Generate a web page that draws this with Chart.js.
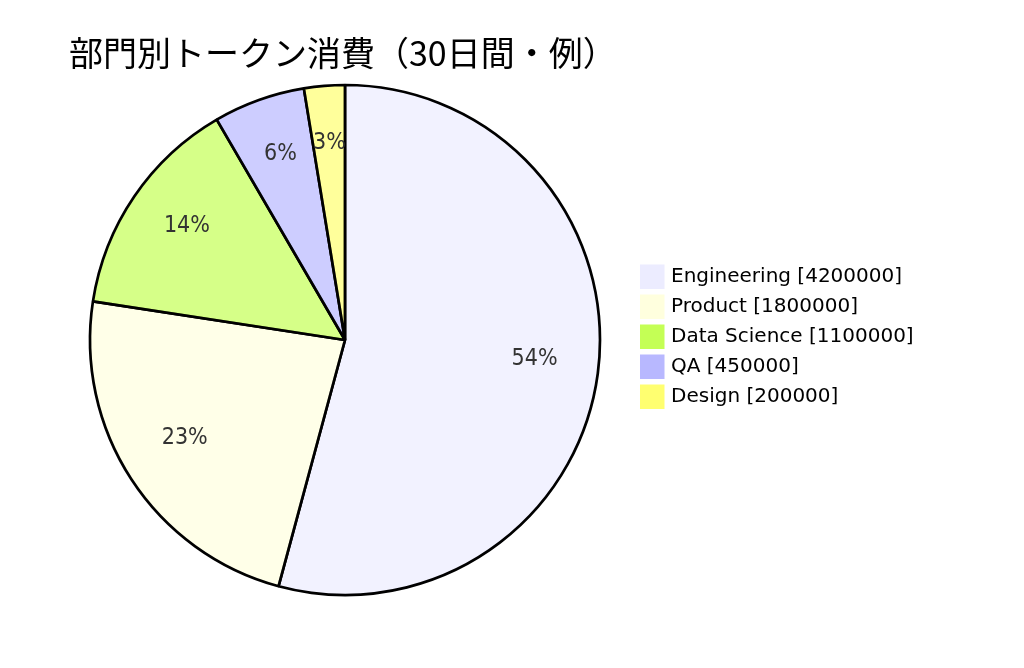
<!DOCTYPE html>
<html>
<head>
<meta charset="utf-8">
<script src="https://cdn.jsdelivr.net/npm/chart.js@4/dist/chart.umd.min.js"></script>
<style>
  html, body { margin: 0; padding: 0; background: #fff; }
  #wrap { position: relative; width: 1024px; height: 668px; }
</style>
</head>
<body>
<div id="wrap"><canvas id="pieChart" width="1024" height="668"></canvas></div>
<script>
'use strict';

/** Token usage by department (pie) */

const chartTitle = '部門別トークン消費（30日間・例）';
const departments = ['Engineering', 'Product', 'Data Science', 'QA', 'Design'];
const tokenCounts = [4200000, 1800000, 1100000, 450000, 200000];
const sliceColors = ['#ececff', '#ffffde', '#c4ff55', '#b8b8ff', '#ffff70'];

const FONT = '"DejaVu Sans", Verdana, sans-serif';
const LABEL_FONT = '"Liberation Sans Narrow", "DejaVu Sans Condensed", sans-serif';

function withAlpha(hex, a) {
    const n = parseInt(hex.slice(1), 16);
    return `rgba(${(n >> 16) & 255}, ${(n >> 8) & 255}, ${n & 255}, ${a})`;
}

// percentages at 0.75 radius + title + legend, drawn on the canvas
const pieDecor = {
    id: 'pieDecor',
    afterDatasetsDraw(chart) {
        const ctx = chart.ctx;
        const meta = chart.getDatasetMeta(0);
        const total = tokenCounts.reduce((acc, v) => acc + v, 0);

        ctx.save();
        ctx.fillStyle = '#333';
        ctx.font = `23px ${LABEL_FONT}`;
        ctx.textAlign = 'center';
        ctx.textBaseline = 'alphabetic';
        meta.data.forEach((arc, i) => {
            const mid = (arc.startAngle + arc.endAngle) / 2;
            const r = arc.outerRadius * 0.75;
            const pct = ((tokenCounts[i] / total) * 100).toFixed(0);
            ctx.fillText(`${pct}%`, arc.x + Math.cos(mid) * r, arc.y + Math.sin(mid) * r);
        });

        ctx.fillStyle = '#000';
        ctx.textAlign = 'left';
        ctx.textBaseline = 'middle';
        ctx.font = `34px "Noto Sans CJK JP", ${FONT}`;
        ctx.fillText(chartTitle, 69, 53);

        ctx.font = `20px ${FONT}`;
        departments.forEach((name, i) => {
            const y = 276.5 + i * 30;
            ctx.fillStyle = sliceColors[i];
            ctx.fillRect(640, y - 12, 24.5, 24.5);
            ctx.fillStyle = '#000';
            ctx.fillText(`${name} [${tokenCounts[i]}]`, 671, y);
        });
        ctx.restore();
    },
};

const pieChart = new Chart(document.getElementById('pieChart'), {
    type: 'pie',
    data: {
        labels: departments,
        datasets: [
            {
                data: tokenCounts,
                backgroundColor: sliceColors.map((c) => withAlpha(c, 0.7)),
                borderColor: '#000',
                borderWidth: 2.7,
                radius: 255,
            },
        ],
    },
    options: {
        responsive: false,
        animation: false,
        layout: {
            padding: { left: 90, right: 424, top: 85, bottom: 73 },
        },
        plugins: {
            legend: { display: false },
            title: { display: false },
            tooltip: { enabled: false },
        },
    },
    plugins: [pieDecor],
});
</script>
</body>
</html>
